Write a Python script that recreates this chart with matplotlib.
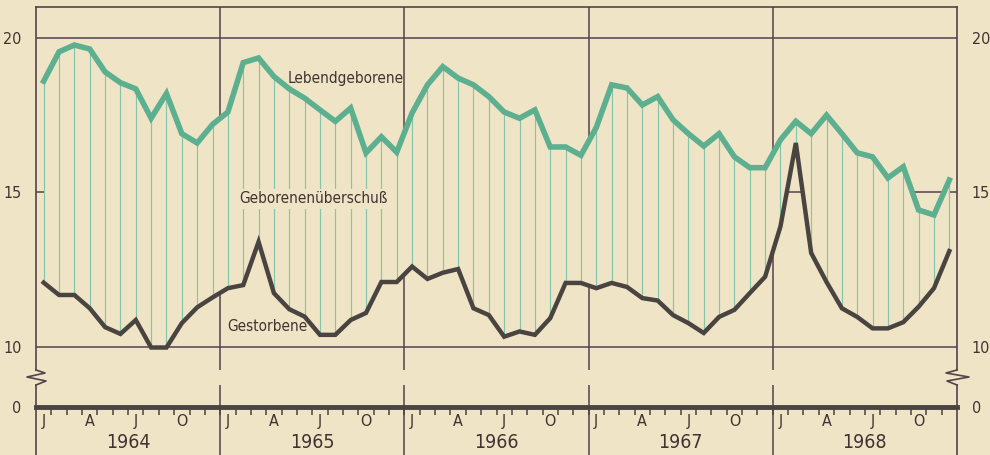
"""
Lebendgeborene / Gestorbene je Monat 1964-1968 (je 1000 Einwohner),
Geborenenüberschuß als senkrechte Schraffur zwischen den beiden Kurven.
"""
import numpy as np
import matplotlib
matplotlib.use("Agg")
import matplotlib.pyplot as plt
from matplotlib.lines import Line2D

plt.rcParams["font.family"] = ["DejaVu Sans"]
plt.rcParams["font.stretch"] = "condensed"

YEARS = ["1964", "1965", "1966", "1967", "1968"]
MONTH_LABELS = ["J", "A", "J", "O"]          # Jan, Apr, Jul, Okt
MONTH_LABEL_POS = [0, 3, 6, 9]

# Werte monatlich, Jan 1964 .. Dez 1968
births = [
    18.6, 19.55, 19.77, 19.64, 18.9, 18.55, 18.35, 17.4, 18.2, 16.9, 16.6, 17.2,
    17.6, 19.2, 19.35, 18.75, 18.35, 18.05, 17.67, 17.3, 17.73, 16.28, 16.8, 16.3,
    17.57, 18.48, 19.07, 18.7, 18.48, 18.1, 17.6, 17.4, 17.67, 16.47, 16.47, 16.2,
    17.1, 18.48, 18.38, 17.83, 18.1, 17.35, 16.9, 16.5, 16.9, 16.15, 15.8, 15.8,
    16.7, 17.3, 16.9, 17.5, 16.9, 16.28, 16.15, 15.47, 15.83, 14.43, 14.27, 15.4,
]
deaths = [
    12.08, 11.68, 11.68, 11.25, 10.64, 10.42, 10.87, 9.98, 9.98, 10.77, 11.28, 11.6,
    11.9, 12.0, 13.4, 11.74, 11.22, 10.98, 10.39, 10.39, 10.87, 11.1, 12.1, 12.1,
    12.6, 12.2, 12.4, 12.52, 11.25, 11.03, 10.33, 10.5, 10.39, 10.93, 12.07, 12.07,
    11.9, 12.07, 11.94, 11.58, 11.5, 11.03, 10.77, 10.45, 10.97, 11.2, 11.74, 12.27,
    13.9, 16.6, 13.04, 12.1, 11.25, 10.97, 10.6, 10.6, 10.8, 11.3, 11.9, 13.1,
]

BG = "#efe4c6"
GREEN = "#5caf8f"
HATCH = "#84c5ab"
DARK = "#4a4441"
FRAME = "#55424c"
TEXT = "#3f3432"

W, H = 990, 455


def fx(px):
    return px / W


def fy(py):
    return 1 - py / H


def main() -> None:
    x = np.arange(len(births))
    n = len(births)

    fig = plt.figure(figsize=(W / 100, H / 100), dpi=100, facecolor=BG)

    # oberer Teil: 10 .. 21
    ax = fig.add_axes([fx(36), fy(370), fx(957 - 36), (370 - 7) / H])
    ax.set_facecolor(BG)
    ax.set_xlim(-0.5, n - 0.5)
    ax.set_ylim(21.0 - 363 / 30.9, 21.0)

    # Gitter liegt unter der Fläche zwischen den Kurven -> dort verdeckt
    for yv in (10, 15, 20):
        ax.axhline(yv, color=FRAME, lw=1.1, zorder=0.5)
    for k in range(1, len(YEARS)):
        ax.axvline(12 * k - 0.5, color=FRAME, lw=1.1, zorder=0.5)
    ax.fill_between(x, deaths, births, color=BG, lw=0, zorder=1)
    ax.vlines(x, deaths, births, color=HATCH, lw=0.85, zorder=2)

    ax.plot(x, births, color=GREEN, lw=4.0, solid_joinstyle="miter", zorder=4)
    ax.plot(x, deaths, color=DARK, lw=3.2, solid_joinstyle="miter", zorder=4)

    ax.text(19.7, 18.7, "Lebendgeborene", fontsize=11, color=TEXT,
            ha="center", va="center", zorder=5)
    ax.text(17.6, 14.79, "Geborenenüberschuß", fontsize=11, color=TEXT,
            ha="center", va="center", zorder=5,
            bbox=dict(facecolor=BG, edgecolor="none", pad=1.5))
    ax.text(14.6, 10.65, "Gestorbene", fontsize=11, color=TEXT,
            ha="center", va="center", zorder=5)

    for side in ("top", "left", "right"):
        ax.spines[side].set_color(FRAME)
        ax.spines[side].set_linewidth(1.2)
    ax.spines["bottom"].set_visible(False)
    ax.set_xticks([])
    ax.set_yticks([10, 15, 20])
    ax.tick_params(axis="y", length=0, pad=10.5, labelsize=11.5,
                   labelcolor=TEXT, labelleft=True, labelright=True)

    # unterer Teil: Nulllinie und Monatsachse
    bx = fig.add_axes([fx(36), 0, fx(957 - 36), (455 - 385) / H])
    bx.set_facecolor(BG)
    bx.set_xlim(-0.5, n - 0.5)
    bx.set_ylim(-48 / 24, 22 / 24)
    for k in range(1, len(YEARS)):
        bx.axvline(12 * k - 0.5, color=FRAME, lw=1.1, zorder=0.5)
    bx.spines["top"].set_visible(False)
    bx.spines["bottom"].set_position(("data", 0))
    bx.spines["bottom"].set_linewidth(3.5)
    bx.spines["bottom"].set_color(DARK)
    for side in ("left", "right"):
        bx.spines[side].set_color(FRAME)
        bx.spines[side].set_linewidth(1.2)

    bx.set_xticks(np.arange(0.5, n - 1, 1.0))
    bx.tick_params(axis="x", which="major", direction="out", length=6,
                   width=1.1, color=DARK, labelbottom=False)
    centers = [12 * k + m for k in range(len(YEARS)) for m in MONTH_LABEL_POS]
    bx.set_xticks(centers, minor=True)
    bx.set_xticklabels(MONTH_LABELS * len(YEARS), minor=True)
    bx.tick_params(axis="x", which="minor", length=0, pad=5, labelsize=11.5,
                   labelcolor=TEXT)
    for k, yr in enumerate(YEARS):
        bx.text(12 * k + 5.5, -1.5, yr, fontsize=14, color=TEXT,
                ha="center", va="center")

    bx.set_yticks([0])
    bx.tick_params(axis="y", length=0, pad=10.5, labelsize=11.5,
                   labelcolor=TEXT, labelleft=True, labelright=True)

    # Achsenbruch (Zickzack) links und rechts
    zig_l = [(36, 370), (45, 373), (27, 377), (46, 381), (36, 385)]
    zig_r = [(957, 370), (946, 373), (969, 377), (947, 381), (957, 385)]
    for pts in (zig_l, zig_r):
        fig.add_artist(Line2D([fx(p[0]) for p in pts], [fy(p[1]) for p in pts],
                              color=FRAME, lw=1.2, transform=fig.transFigure))

    fig.savefig("out.png", dpi=100, facecolor=BG)


if __name__ == "__main__":
    main()
